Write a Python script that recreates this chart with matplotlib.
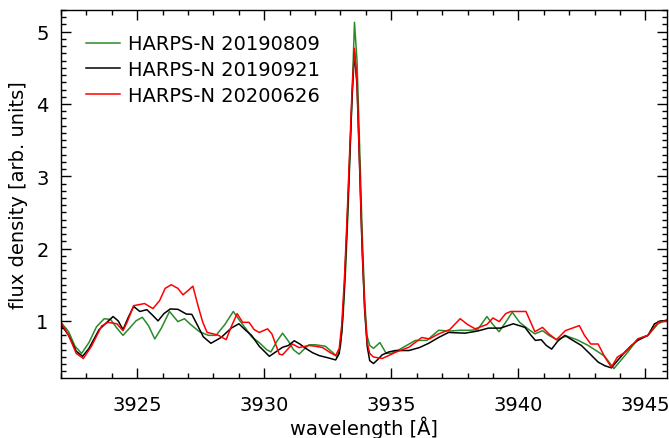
import matplotlib
matplotlib.use("Agg")
import matplotlib.pyplot as plt
from matplotlib.ticker import MultipleLocator

plt.rcParams['font.family'] = 'DejaVu Sans'
plt.rcParams['font.size'] = 14

labels = ["HARPS-N 20190809", "HARPS-N 20190921", "HARPS-N 20200626"]
colors = ["#2a8a2a", "black", "red"]

# HARPS-N 20190809 (green)
wl_0809 = [3922.0, 3922.3, 3922.55, 3922.81, 3923.1, 3923.4, 3923.7, 3923.95, 3924.2, 3924.44,
           3924.7, 3924.95, 3925.2, 3925.45, 3925.69, 3925.95, 3926.27, 3926.6, 3926.86, 3927.1,
           3927.45, 3927.8, 3928.1, 3928.45, 3928.78, 3929.0, 3929.28, 3929.5, 3929.8, 3930.1,
           3930.26, 3930.5, 3930.72, 3930.95, 3931.15, 3931.37, 3931.6, 3931.76, 3932.0, 3932.4,
           3932.7, 3932.87, 3933.0, 3933.1, 3933.2, 3933.3, 3933.4, 3933.5, 3933.55, 3933.65,
           3933.75, 3933.85, 3933.95, 3934.04, 3934.15, 3934.3, 3934.55, 3934.8, 3935.0, 3935.3,
           3935.6, 3935.95, 3936.4, 3936.86, 3937.3, 3937.7, 3938.1, 3938.4, 3938.76, 3939.0,
           3939.24, 3939.5, 3939.76, 3940.05, 3940.3, 3940.65, 3940.95, 3941.2, 3941.5, 3941.9,
           3942.3, 3942.75, 3943.1, 3943.4, 3943.76, 3944.0, 3944.3, 3944.7, 3945.1, 3945.5,
           3945.85]
flux_0809 = [0.98, 0.85, 0.65, 0.55, 0.70, 0.92, 1.03, 1.02, 0.90, 0.80,
             0.90, 1.00, 1.05, 0.93, 0.75, 0.90, 1.13, 0.99, 1.03, 0.95,
             0.85, 0.80, 0.80, 0.95, 1.13, 1.02, 0.89, 0.78, 0.70, 0.60,
             0.57, 0.72, 0.83, 0.72, 0.60, 0.54, 0.62, 0.67, 0.67, 0.65,
             0.56, 0.50, 0.65, 1.05, 1.70, 2.55, 3.55, 4.60, 5.13, 4.60,
             3.45, 2.25, 1.30, 0.80, 0.66, 0.62, 0.70, 0.55, 0.55, 0.60,
             0.66, 0.73, 0.73, 0.87, 0.86, 0.87, 0.87, 0.88, 1.06, 0.95,
             0.85, 0.98, 1.12, 0.98, 0.91, 0.82, 0.865, 0.80, 0.74, 0.79,
             0.74, 0.66, 0.58, 0.51, 0.34, 0.44, 0.565, 0.75, 0.80, 0.96,
             1.02]

# HARPS-N 20190921 (black)
wl_0921 = [3922.0, 3922.3, 3922.6, 3922.85, 3923.1, 3923.5, 3924.05, 3924.25, 3924.44, 3924.65,
           3924.86, 3925.1, 3925.38, 3925.6, 3925.82, 3926.05, 3926.3, 3926.6, 3926.93, 3927.15,
           3927.4, 3927.6, 3927.9, 3928.3, 3928.7, 3929.0, 3929.3, 3929.5, 3929.8, 3930.2,
           3930.45, 3930.72, 3930.95, 3931.18, 3931.4, 3931.63, 3931.9, 3932.16, 3932.5, 3932.81,
           3932.95, 3933.05, 3933.15, 3933.25, 3933.35, 3933.45, 3933.55, 3933.65, 3933.75, 3933.85,
           3933.95, 3934.05, 3934.15, 3934.3, 3934.45, 3934.64, 3934.9, 3935.16, 3935.69, 3936.1,
           3936.47, 3936.86, 3937.25, 3937.9, 3938.4, 3938.82, 3939.3, 3939.8, 3940.26, 3940.5,
           3940.67, 3940.9, 3941.1, 3941.31, 3941.55, 3941.83, 3942.1, 3942.48, 3942.8, 3943.14,
           3943.4, 3943.66, 3943.9, 3944.18, 3944.45, 3944.7, 3945.1, 3945.36, 3945.6, 3945.85]
flux_0921 = [0.95, 0.80, 0.58, 0.51, 0.62, 0.88, 1.06, 1.00, 0.88, 1.05,
             1.20, 1.13, 1.155, 1.08, 1.00, 1.10, 1.165, 1.16, 1.095, 1.09,
             0.92, 0.78, 0.69, 0.77, 0.90, 0.96, 0.86, 0.80, 0.65, 0.51,
             0.57, 0.635, 0.66, 0.725, 0.68, 0.62, 0.56, 0.52, 0.49, 0.46,
             0.55, 0.85, 1.45, 2.25, 3.15, 4.05, 4.72, 4.25, 3.15, 2.00,
             1.15, 0.65, 0.45, 0.41, 0.46, 0.53, 0.57, 0.59, 0.59, 0.63,
             0.69, 0.77, 0.84, 0.83, 0.86, 0.90, 0.90, 0.96, 0.91, 0.80,
             0.73, 0.74, 0.66, 0.61, 0.72, 0.80, 0.74, 0.66, 0.55, 0.43,
             0.38, 0.35, 0.45, 0.565, 0.66, 0.73, 0.80, 0.96, 1.00, 1.00]

# HARPS-N 20200626 (red)
wl_0626 = [3922.0, 3922.3, 3922.6, 3922.88, 3923.2, 3923.6, 3923.85, 3924.2, 3924.44, 3924.6,
           3924.86, 3925.29, 3925.62, 3925.88, 3926.1, 3926.34, 3926.6, 3926.8, 3927.0, 3927.19,
           3927.4, 3927.58, 3927.75, 3928.0, 3928.2, 3928.5, 3928.7, 3928.93, 3929.15, 3929.4,
           3929.6, 3929.8, 3930.13, 3930.3, 3930.59, 3930.72, 3930.9, 3931.11, 3931.37, 3931.76,
           3932.0, 3932.3, 3932.6, 3932.81, 3932.95, 3933.05, 3933.15, 3933.25, 3933.35, 3933.45,
           3933.55, 3933.65, 3933.75, 3933.85, 3933.95, 3934.05, 3934.15, 3934.3, 3934.64, 3934.9,
           3935.16, 3935.69, 3936.2, 3936.5, 3936.86, 3937.3, 3937.71, 3938.0, 3938.3, 3938.76,
           3939.0, 3939.25, 3939.5, 3939.7, 3940.3, 3940.65, 3940.95, 3941.2, 3941.5, 3941.85,
           3942.4, 3942.6, 3942.85, 3943.14, 3943.4, 3943.66, 3943.9, 3944.18, 3944.45, 3944.7,
           3945.1, 3945.5, 3945.85]
flux_0626 = [0.98, 0.80, 0.55, 0.48, 0.65, 0.93, 0.98, 0.96, 0.865, 0.98,
             1.21, 1.24, 1.17, 1.28, 1.45, 1.50, 1.45, 1.36, 1.42, 1.48,
             1.20, 0.98, 0.84, 0.82, 0.80, 0.74, 0.92, 1.10, 0.98, 0.98,
             0.88, 0.84, 0.89, 0.82, 0.54, 0.53, 0.60, 0.68, 0.63, 0.66,
             0.65, 0.63, 0.56, 0.52, 0.62, 0.95, 1.55, 2.35, 3.25, 4.15,
             4.77, 4.30, 3.20, 2.05, 1.20, 0.70, 0.55, 0.50, 0.48, 0.52,
             0.565, 0.635, 0.77, 0.75, 0.82, 0.88, 1.03, 0.95, 0.89, 0.95,
             1.04, 0.99, 1.10, 1.13, 1.13, 0.85, 0.91, 0.82, 0.74, 0.865,
             0.935, 0.80, 0.68, 0.68, 0.50, 0.36, 0.50, 0.56, 0.65, 0.75,
             0.80, 0.98, 1.00]

fig = plt.figure(figsize=(6.69, 4.39), dpi=100)
ax = fig.add_axes([61 / 669, 60 / 439, 606 / 669, 368 / 439])

series = [(wl_0809, flux_0809), (wl_0921, flux_0921), (wl_0626, flux_0626)]
for (wl, fl), lab, col in zip(series, labels, colors):
    ax.plot(wl, fl, color=col, lw=1.1, label=lab)

ax.set_xlim(3922.0, 3945.85)
ax.set_ylim(0.21, 5.3)
ax.xaxis.set_major_locator(MultipleLocator(5))
ax.xaxis.set_minor_locator(MultipleLocator(1))
ax.yaxis.set_major_locator(MultipleLocator(1))
ax.yaxis.set_minor_locator(MultipleLocator(0.1))
ax.tick_params(which='both', direction='in', top=True, right=True, width=1.0)
ax.tick_params(which='major', length=7)
ax.tick_params(which='minor', length=3.5)
ax.tick_params(axis='x', which='major', pad=12)
ax.tick_params(axis='y', which='major', pad=9)
for sp in ax.spines.values():
    sp.set_linewidth(1.0)

ax.set_xlabel("wavelength [Å]", labelpad=1)
ax.set_ylabel("flux density [arb. units]", labelpad=6)

ax.legend(loc='upper left', bbox_to_anchor=(0.029, 0.955), frameon=False,
          handlelength=1.75, handletextpad=0.4, labelspacing=0.35, borderaxespad=0)

fig.savefig("out.png", dpi=100)
